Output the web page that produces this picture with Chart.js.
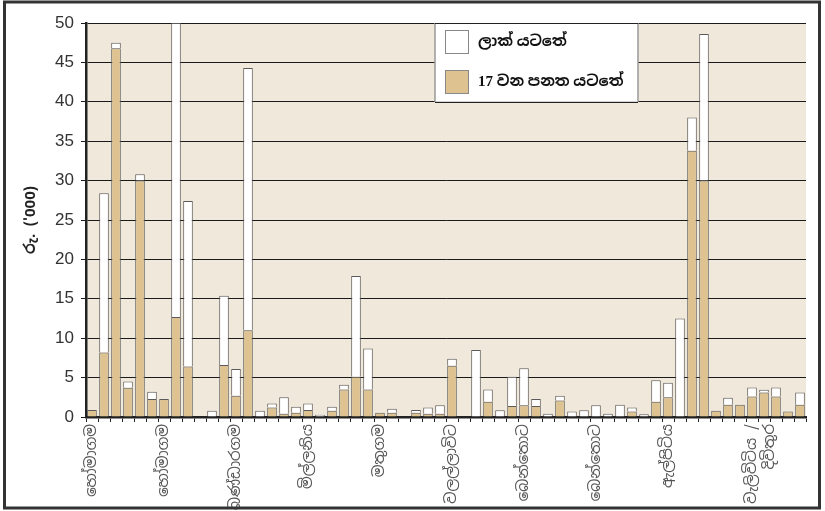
<!DOCTYPE html>
<html>
<head>
<meta charset="utf-8">
<script src="https://cdn.jsdelivr.net/npm/chart.js@4/dist/chart.umd.min.js"></script>
<style>
  html, body { margin: 0; padding: 0; background: #fff; }
  #wrap { position: relative; width: 825px; height: 511px; }
  canvas { display: block; }
</style>
</head>
<body>
<div id="wrap"><canvas id="c" width="825" height="511"></canvas></div>
<script>
// ---- data ----
const tickLabels = ['හෝමාගම', 'හෝමාගම', 'බණ්ඩාරගම', 'මිල්ලනිය', 'මතුගම', 'වලල්ලාවිට', 'බෙන්තොට', 'බෙන්තොට', 'ඇල්පිටිය', ['වැලිවිටිය /', 'දිවිතුර']];
const tickPositions = [0, 6, 12, 18, 24, 30, 36, 42, 48, 55];
const barCount = 60;

const seriesNames = ['17 වන පනත යටතේ', 'ලාක් යටතේ'];

// Under Act 17 (bottom, tan)
const act17Values = [
  0.9, 8.2, 46.8, 3.7, 30.0, 2.3, 2.3, 12.7, 6.4, 0,
  0, 6.6, 2.7, 11.0, 0, 1.2, 0.4, 0.55, 0.9, 0,
  0.8, 3.5, 5.1, 3.5, 0.55, 0.55, 0, 0.55, 0.4, 0.4,
  6.5, 0, 0, 1.95, 0, 1.4, 1.5, 1.4, 0, 2.1,
  0, 0, 0, 0, 0, 0.7, 0, 1.95, 2.5, 0,
  33.8, 30.0, 0.8, 1.55, 1.55, 2.6, 3.1, 2.6, 0.7, 1.55
];
// Under Lac (top, white)
const lacValues = [
  0, 20.2, 0.7, 0.8, 0.8, 0.9, 0, 37.3, 21.0, 0,
  0.8, 8.8, 3.4, 33.3, 0.8, 0.5, 2.1, 0.75, 0.8, 0.3,
  0.5, 0.6, 12.8, 5.2, 0, 0.5, 0, 0.35, 0.8, 1.1,
  0.9, 0, 8.5, 1.55, 0.85, 3.7, 4.7, 0.9, 0.4, 0.6,
  0.7, 0.85, 1.5, 0.4, 1.55, 0.5, 0.35, 2.7, 1.85, 12.5,
  4.2, 18.6, 0, 0.9, 0, 1.15, 0.35, 1.15, 0, 1.55
];

const yTitle = "රු. ('000)";
const yMin = 0, yMax = 50, yStep = 5;

// ---- build ----
const categories = Array.from({ length: barCount }, (_, i) => {
  const k = tickPositions.indexOf(i);
  return k >= 0 ? tickLabels[k] : '';
});

const SIN = "'Noto Sans Sinhala', 'Iskoola Pota', 'Liberation Sans', sans-serif";
const TAN = '#DEC391';
const BG = '#F1E8DC';

const bgPlugin = {
  id: 'bg',
  beforeDraw(chart) {
    const { ctx, chartArea: a } = chart;
    ctx.save();
    ctx.fillStyle = '#fff';
    ctx.fillRect(0, 0, chart.width, chart.height);
    ctx.fillStyle = BG;
    ctx.fillRect(a.left, a.top, a.right - a.left, a.bottom - a.top);
    ctx.restore();
  },
  afterDraw(chart) {
    const { ctx, scales } = chart;
    const y = scales.y;
    // legend box
    const top = y.getPixelForValue(50), bot = y.getPixelForValue(40);
    const lx = 435, rx = 638;
    ctx.save();
    ctx.fillStyle = '#fff';
    ctx.fillRect(lx, top, rx - lx, bot - top);
    ctx.strokeStyle = '#999';
    ctx.lineWidth = 1.5;
    ctx.beginPath();
    ctx.moveTo(lx, top); ctx.lineTo(lx, bot);
    ctx.moveTo(rx, top); ctx.lineTo(rx, bot);
    ctx.stroke();
    ctx.strokeStyle = '#222';
    ctx.lineWidth = 1;
    ctx.beginPath();
    ctx.moveTo(lx, Math.round(bot) + 0.5); ctx.lineTo(rx, Math.round(bot) + 0.5);
    ctx.moveTo(lx, Math.round(top) + 0.5); ctx.lineTo(rx, Math.round(top) + 0.5);
    ctx.stroke();
    const items = [
      { label: chart.data.datasets[1].label, color: '#fff', y: top + 7.5 },
      { label: chart.data.datasets[0].label, color: TAN, y: top + 47.5 }
    ];
    ctx.font = "bold 15px 'Liberation Serif', " + SIN;
    ctx.textBaseline = 'middle';
    items.forEach(it => {
      ctx.fillStyle = it.color;
      ctx.fillRect(445.5, it.y, 23, 23);
      ctx.strokeStyle = '#888';
      ctx.lineWidth = 1;
      ctx.strokeRect(445.5, it.y, 23, 23);
      ctx.fillStyle = '#111';
      ctx.fillText(it.label, 478, it.y + 12);
    });
    // outer frame
    ctx.strokeStyle = '#333';
    ctx.lineWidth = 3;
    ctx.strokeRect(4.5, 2, 815, 506);
    ctx.restore();
  }
};

new Chart(document.getElementById('c'), {
  type: 'bar',
  data: {
    labels: categories,
    datasets: [
      {
        label: seriesNames[0],
        data: act17Values,
        backgroundColor: TAN,
        borderColor: '#5a5a5a',
        borderWidth: 1,
        borderSkipped: 'bottom'
      },
      {
        label: seriesNames[1],
        data: lacValues,
        backgroundColor: '#ffffff',
        borderColor: '#5a5a5a',
        borderWidth: 1,
        borderSkipped: 'bottom'
      }
    ]
  },
  options: {
    responsive: false,
    animation: false,
    devicePixelRatio: 1,
    layout: { padding: { left: 0, right: 19, top: 23, bottom: 0 } },
    datasets: { bar: { categoryPercentage: 1.0, barPercentage: 0.8 } },
    plugins: {
      legend: { display: false },
      tooltip: { enabled: false },
      title: { display: false }
    },
    scales: {
      x: {
        stacked: true,
        offset: true,
        afterFit(s) { s.height = 94; },
        grid: {
          offset: true,
          drawOnChartArea: false,
          drawTicks: true,
          tickLength: 5,
          color: '#222',
          lineWidth: 1
        },
        border: { display: true, color: '#222', width: 2.5 },
        ticks: {
          autoSkip: false,
          maxRotation: 90,
          minRotation: 90,
          padding: 2,
          color: '#555',
          font: { family: SIN, size: 15 }
        }
      },
      y: {
        stacked: true,
        min: yMin,
        max: yMax,
        afterFit(s) { s.width = 86; },
        grid: {
          color: '#1a1a1a',
          lineWidth: 1,
          drawTicks: true,
          tickLength: 5
        },
        border: { display: true, color: '#222', width: 2.5 },
        ticks: {
          stepSize: yStep,
          padding: 7,
          color: '#333',
          font: { family: "'Liberation Sans', Arial, sans-serif", size: 17 }
        },
        title: {
          display: true,
          text: yTitle,
          color: '#222',
          font: { family: SIN, size: 15, weight: 'bold' },
          padding: { top: 22, bottom: 6 }
        }
      }
    }
  },
  plugins: [bgPlugin]
});
</script>
</body>
</html>
